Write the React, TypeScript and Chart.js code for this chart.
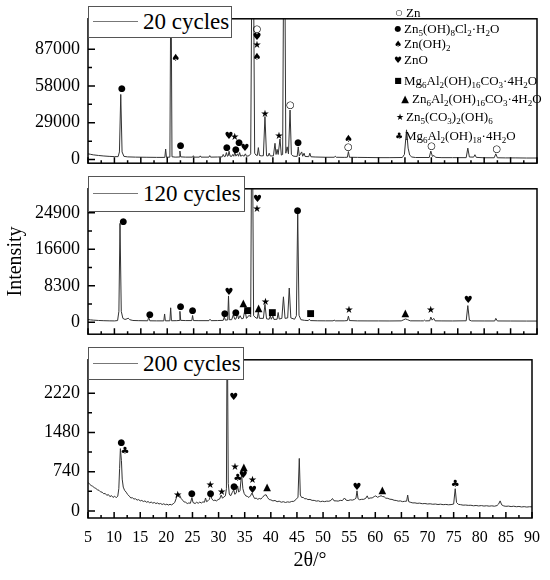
import React, { useEffect, useRef } from 'react';
import { Chart, registerables } from 'chart.js';

Chart.register(...registerables);

const SERIF = '"Liberation Serif", "Times New Roman", serif';

// ---- axis ticks ----
const xTicks = [5, 10, 15, 20, 25, 30, 35, 40, 45, 50, 55, 60, 65, 70, 75, 80, 85, 90];
const xMinorTicks = [7.5, 12.5, 17.5, 22.5, 27.5, 32.5, 37.5, 42.5, 47.5, 52.5, 57.5, 62.5, 67.5, 72.5, 77.5, 82.5, 87.5];
const yTicks20 = [0, 29000, 58000, 87000];
const yMinor20 = [14500, 43500, 72500, 101500];
const yTicks120 = [0, 8300, 16600, 24900];
const yMinor120 = [4150, 12450, 20750, 29050];
const yTicks200 = [0, 740, 1480, 2220];
const yMinor200 = [370, 1110, 1850, 2590];

// ---- series names ----
const seriesNames = ['20 cycles', '120 cycles', '200 cycles'];

// ---- XRD patterns [2θ, intensity] ----
const cycles20: [number, number][] = [
  [5, 4500], [5.5, 4100], [6, 3700], [7, 3200], [8, 2800], [9, 2500], [10, 2300], [10.7, 2300], [10.95, 6000],
  [11.2, 51300], [11.45, 6000], [11.8, 2500], [12.5, 2100], [14, 1900], [16, 1800], [18, 1700], [19.55, 1700],
  [19.7, 8300], [19.85, 1800], [20.5, 1900], [20.7, 160000], [20.9, 2200], [21.5, 1900], [22.25, 2000], [22.4, 6700],
  [22.55, 2100], [23.5, 1900], [24.8, 1900], [24.95, 3000], [25.1, 1900], [26.1, 1900], [26.25, 2900], [26.4, 1900],
  [27.9, 1900], [28.05, 3100], [28.2, 1900], [29.5, 2000], [30.4, 2100], [30.6, 4000], [30.8, 2300], [31.0, 2500],
  [31.2, 5500], [31.4, 2600], [31.55, 3000], [31.7, 6500], [31.9, 2700], [32.2, 2500], [32.4, 4000], [32.6, 2600],
  [32.8, 6000], [33.0, 2700], [33.3, 4500], [33.5, 2600], [33.7, 5500], [33.9, 2600], [34.3, 3500], [34.5, 2500],
  [34.8, 4500], [35.0, 2600], [35.5, 3000], [35.8, 4500], [36.05, 170000], [36.3, 170000], [36.55, 5000],
  [36.8, 3500], [37.05, 3200], [37.25, 9400], [37.45, 3200], [37.8, 2900], [38.2, 3000], [38.5, 33900], [38.8, 3000],
  [39.1, 2800], [39.3, 5000], [39.5, 2800], [40.1, 2900], [40.4, 12800], [40.6, 4000], [40.8, 8000], [41.0, 4000],
  [41.35, 16200], [41.6, 3500], [41.85, 4000], [42.05, 170000], [42.25, 170000], [42.45, 5000], [42.7, 10000],
  [42.95, 4500], [43.25, 39000], [43.5, 4000], [43.8, 2800], [44.2, 2500], [44.6, 2500], [44.8, 10000], [45.0, 2800],
  [45.45, 6000], [45.65, 2600], [45.9, 5000], [46.1, 2400], [46.8, 2300], [47.0, 5000], [47.2, 2200], [48, 2000],
  [50, 1800], [51.6, 1800], [51.8, 2600], [52.0, 1800], [53.5, 1700], [54.1, 1800], [54.3, 6300], [54.5, 1800],
  [56, 1700], [58, 1600], [60, 1500], [62, 1500], [64.5, 1600], [64.9, 4000], [65.3, 23400], [65.6, 9000],
  [65.9, 3500], [66.3, 2000], [67, 1600], [69.6, 1600], [69.9, 6700], [70.2, 2500], [70.5, 3200], [70.8, 1700],
  [72, 1500], [74, 1500], [76.6, 1500], [76.9, 9000], [77.2, 2000], [78.0, 1900], [78.25, 3800], [78.5, 1700],
  [80, 1400], [81.9, 1400], [82.2, 4500], [82.5, 1400], [84, 1300], [86, 1300], [88, 1200], [90, 1200],
];

const cycles120: [number, number][] = [
  [5, 640], [5.5, 560], [6, 500], [7, 420], [8, 370], [9, 340], [10, 320], [10.6, 400], [10.85, 2500], [11.06, 22500],
  [11.3, 2500], [11.6, 900], [12.0, 650], [12.4, 800], [12.6, 960], [12.9, 600], [13.5, 420], [14.5, 380], [16.3, 350],
  [16.5, 1200], [16.7, 350], [18, 330], [19.35, 330], [19.5, 1900], [19.65, 340], [20.5, 350], [20.65, 3300],
  [20.8, 360], [21.8, 380], [22.25, 420], [22.4, 2500], [22.55, 440], [23.5, 400], [24.65, 400], [24.8, 1550],
  [24.95, 400], [26, 380], [27.9, 380], [28.1, 700], [28.3, 380], [29.5, 400], [30.6, 450], [30.8, 1270], [31.0, 500],
  [31.45, 550], [31.6, 6000], [31.75, 600], [32.2, 600], [32.5, 1700], [32.8, 700], [33.0, 750], [33.3, 1900],
  [33.5, 800], [33.8, 1500], [34.1, 800], [34.4, 900], [34.7, 2900], [35.0, 900], [35.5, 1600], [35.8, 1200],
  [36.05, 60000], [36.35, 1500], [36.8, 1000], [37.05, 900], [37.25, 2400], [37.45, 900], [38.2, 900], [38.5, 4100],
  [38.8, 800], [39.3, 700], [39.5, 1500], [39.7, 700], [40.0, 1400], [40.2, 650], [40.8, 700], [41.0, 2240],
  [41.2, 750], [41.7, 900], [42.0, 5800], [42.3, 900], [42.8, 1000], [43.1, 7800], [43.4, 1000], [44.1, 700],
  [44.45, 1500], [44.7, 25000], [44.95, 1600], [45.3, 600], [46, 450], [46.7, 400], [46.9, 700], [47.1, 400],
  [48.5, 350], [50, 340], [51.4, 340], [51.6, 500], [51.8, 340], [53.5, 340], [54.1, 400], [54.3, 1400], [54.5, 400],
  [56, 330], [58, 320], [60, 320], [62, 310], [64.3, 330], [64.8, 600], [65.1, 770], [65.5, 600], [66, 340],
  [68, 330], [68.5, 330], [68.7, 500], [68.9, 330], [69.7, 350], [69.9, 1200], [70.15, 500], [70.45, 900],
  [70.7, 340], [72, 320], [74, 310], [76.6, 350], [76.9, 3800], [77.2, 500], [77.6, 320], [80, 310], [82.0, 310],
  [82.2, 900], [82.5, 310], [85, 300], [88, 290], [90, 290],
];

const cycles200: [number, number][] = [
  [5, 540], [5.3, 505], [5.6, 480], [5.9, 465], [6.2, 440], [6.5, 425], [6.8, 400], [7.1, 390], [7.4, 360],
  [7.7, 355], [8.0, 325], [8.3, 330], [8.6, 295], [8.9, 310], [9.2, 270], [9.5, 290], [9.8, 255], [10.1, 280],
  [10.4, 250], [10.7, 280], [10.9, 420], [11.05, 800], [11.2, 1175], [11.4, 950], [11.55, 600], [11.75, 450],
  [12.0, 390], [12.3, 355], [12.6, 310], [12.9, 280], [13.2, 245], [13.5, 250], [13.8, 225], [14.1, 230], [14.4, 205],
  [14.7, 215], [15.0, 190], [15.3, 200], [15.6, 178], [15.9, 190], [16.2, 165], [16.5, 178], [16.8, 155], [17.1, 168],
  [17.4, 148], [17.7, 160], [18.0, 140], [18.3, 152], [18.6, 132], [18.9, 142], [19.2, 122], [19.5, 136], [19.8, 118],
  [20.1, 128], [20.4, 112], [20.7, 126], [21.0, 115], [21.3, 135], [21.6, 160], [21.9, 240], [22.2, 330], [22.5, 310],
  [22.8, 240], [23.1, 205], [23.4, 170], [23.7, 165], [24.0, 140], [24.3, 152], [24.6, 145], [24.9, 255], [25.1, 160],
  [25.5, 140], [25.8, 165], [26.1, 145], [26.4, 168], [26.7, 150], [27.0, 172], [27.3, 165], [27.5, 245], [27.7, 175],
  [28.0, 195], [28.25, 220], [28.5, 320], [28.7, 230], [29.0, 195], [29.3, 205], [29.6, 190], [29.9, 215], [30.2, 225],
  [30.5, 300], [30.75, 240], [31.0, 265], [31.3, 285], [31.5, 420], [31.65, 4000], [31.85, 520], [32.05, 320],
  [32.3, 285], [32.6, 345], [32.9, 400], [33.1, 315], [33.35, 335], [33.65, 470], [33.85, 355], [34.1, 385],
  [34.4, 700], [34.65, 420], [34.9, 330], [35.2, 285], [35.5, 275], [35.8, 255], [36.1, 285], [36.4, 340],
  [36.65, 280], [36.9, 235], [37.2, 242], [37.5, 220], [37.8, 236], [38.1, 226], [38.4, 255], [38.8, 300],
  [39.1, 305], [39.4, 250], [39.7, 215], [40.0, 210], [40.4, 190], [40.8, 198], [41.2, 175], [41.6, 185], [42.0, 165],
  [42.4, 175], [42.8, 160], [43.2, 172], [43.6, 165], [44.0, 180], [44.4, 182], [44.8, 215], [45.2, 260],
  [45.45, 990], [45.65, 300], [45.9, 255], [46.2, 255], [46.5, 230], [46.8, 232], [47.1, 215], [47.5, 218],
  [47.9, 200], [48.3, 200], [48.7, 186], [49.1, 192], [49.5, 176], [49.9, 184], [50.3, 176], [50.7, 186], [51.1, 183],
  [51.5, 198], [51.8, 235], [52.1, 192], [52.5, 190], [52.9, 186], [53.3, 200], [53.7, 196], [54.1, 245], [54.4, 205],
  [54.8, 196], [55.2, 210], [55.6, 205], [56.0, 218], [56.3, 240], [56.5, 380], [56.7, 230], [57.0, 212],
  [57.4, 220], [57.8, 220], [58.2, 242], [58.45, 285], [58.7, 232], [59.0, 245], [59.4, 246], [59.8, 272],
  [60.1, 285], [60.4, 258], [60.8, 274], [61.1, 288], [61.4, 272], [61.7, 268], [62.0, 242], [62.4, 238],
  [62.8, 222], [63.2, 218], [63.6, 202], [64.0, 198], [64.4, 186], [64.8, 190], [65.2, 176], [65.6, 182],
  [66.0, 185], [66.2, 300], [66.4, 175], [66.8, 162], [67.2, 152], [67.6, 153], [68.0, 144], [68.5, 148],
  [69.0, 137], [69.5, 141], [70.0, 132], [70.5, 136], [71.0, 127], [71.5, 131], [72.0, 122], [72.5, 128],
  [73.0, 119], [73.5, 124], [74.0, 117], [74.5, 121], [75.0, 130], [75.3, 420], [75.55, 160], [75.9, 125],
  [76.3, 120], [76.8, 110], [77.3, 112], [77.8, 106], [78.3, 108], [78.8, 98], [79.3, 104], [79.8, 95], [80.3, 102],
  [80.8, 93], [81.3, 99], [81.8, 91], [82.3, 97], [82.8, 90], [83.3, 102], [83.6, 130], [83.9, 190], [84.2, 115],
  [84.6, 95], [85.0, 88], [85.5, 92], [86.0, 83], [86.5, 90], [87.0, 80], [87.5, 86], [88.0, 76], [88.5, 82],
  [89.0, 74], [89.5, 80], [90, 78],
];

// ---- phase markers [2θ, intensity, phase] ----
type Phase = 'zn' | 'chl' | 'hyd' | 'zno' | 'mgc' | 'znc' | 'carb' | 'mgh';
const marks20: [number, number, Phase][] = [
  [11.44, 56000, 'chl'], [21.6, 79400, 'hyd'], [22.55, 11200, 'chl'], [31.3, 9200, 'chl'], [31.7, 18500, 'zno'],
  [32.8, 17200, 'carb'], [33.0, 7800, 'chl'], [33.6, 13200, 'chl'], [34.7, 8800, 'zno'], [37.0, 102200, 'zn'],
  [37.0, 96600, 'zno'], [37.0, 90100, 'carb'], [37.0, 80100, 'hyd'], [38.5, 35900, 'carb'], [41.16, 18500, 'carb'],
  [43.3, 42800, 'zn'], [44.8, 13400, 'chl'], [54.3, 15700, 'hyd'], [54.3, 9400, 'zn'], [70.05, 10500, 'zn'],
  [82.4, 7800, 'zn'],
];
const marks120: [number, number, Phase][] = [
  [11.7, 22970, 'chl'], [16.7, 1800, 'chl'], [22.55, 3530, 'chl'], [24.8, 2700, 'chl'], [30.9, 2050, 'chl'],
  [31.7, 6800, 'zno'], [33.0, 2240, 'chl'], [34.4, 4360, 'znc'], [35.2, 2570, 'mgc'], [37.1, 27850, 'zno'],
  [37.0, 25700, 'carb'], [37.3, 3240, 'znc'], [38.6, 4600, 'carb'], [39.9, 2240, 'mgc'], [44.7, 25400, 'chl'],
  [47.1, 1930, 'mgc'], [54.4, 2760, 'carb'], [65.1, 1990, 'znc'], [69.9, 2760, 'carb'], [77.0, 5020, 'zno'],
];
const marks200: [number, number, Phase][] = [
  [11.4, 1280, 'chl'], [12.1, 1115, 'mgh'], [22.2, 300, 'carb'], [24.9, 320, 'chl'], [28.4, 478, 'carb'],
  [28.5, 331, 'chl'], [30.6, 350, 'carb'], [32.9, 2133, 'zno'], [33.0, 465, 'chl'], [33.15, 823, 'carb'],
  [33.65, 622, 'mgh'], [34.85, 814, 'znc'], [34.7, 662, 'zno'], [36.5, 579, 'carb'], [36.5, 390, 'zno'],
  [39.3, 440, 'znc'], [56.5, 448, 'zno'], [61.35, 390, 'znc'], [75.3, 505, 'mgh'],
];

const glyph: Record<Phase, string> = {
  zn: '○', chl: '●', hyd: '♠', zno: '♥', mgc: '■', znc: '▲', carb: '★', mgh: '♣',
};
const glyphSize: Record<Phase, number> = {
  zn: 10, chl: 9, hyd: 10, zno: 10, mgc: 9, znc: 10, carb: 10, mgh: 10,
};

// ---- phase legend ----
const phaseOrder: Phase[] = ['zn', 'chl', 'hyd', 'zno', 'mgc', 'znc', 'carb', 'mgh'];
const phaseNames = [
  'Zn', 'Zn5(OH)8Cl2·H2O', 'Zn(OH)2', 'ZnO', 'Mg6Al2(OH)16CO3·4H2O', 'Zn6Al2(OH)16CO3·4H2O',
  'Zn5(CO3)2(OH)6', 'Mg6Al2(OH)18·4H2O',
];
const phaseRowY = [13, 29, 44, 60, 81, 99, 117, 136];
const phaseSymX = [399, 398, 398, 398, 398, 405, 400, 399];
const phaseTextX = [406, 404, 404, 404, 404, 412, 406, 405];
const phaseSymSize: Record<Phase, number> = {
  zn: 8, chl: 8, hyd: 9, zno: 9, mgc: 8, znc: 10, carb: 9, mgh: 9,
};

const framePlugin = {
  id: 'frame',
  afterDatasetsDraw(chart: any, _args: any, opts: any) {
    const { ctx, chartArea: a } = chart;
    const xs = chart.scales.x;
    const ys = chart.scales.y;
    ctx.save();
    ctx.strokeStyle = '#000';
    ctx.lineWidth = 1.5;
    ctx.strokeRect(a.left, a.top, a.right - a.left, a.bottom - a.top);
    ctx.beginPath();
    xTicks.forEach((v) => { const p = xs.getPixelForValue(v); ctx.moveTo(p, a.bottom); ctx.lineTo(p, a.bottom - 6); });
    xMinorTicks.forEach((v) => { const p = xs.getPixelForValue(v); ctx.moveTo(p, a.bottom); ctx.lineTo(p, a.bottom - 3); });
    (opts.major || []).forEach((v: number) => { const p = ys.getPixelForValue(v); ctx.moveTo(a.left, p); ctx.lineTo(a.left + 7, p); });
    (opts.minor || []).forEach((v: number) => { const p = ys.getPixelForValue(v); ctx.moveTo(a.left, p); ctx.lineTo(a.left + 4, p); });
    ctx.stroke();
    ctx.restore();
  },
};

const markPlugin = {
  id: 'marks',
  afterDatasetsDraw(chart: any, _args: any, opts: any) {
    const { ctx } = chart;
    const xs = chart.scales.x;
    const ys = chart.scales.y;
    ctx.save();
    ctx.fillStyle = '#000';
    ctx.textAlign = 'center';
    ctx.textBaseline = 'middle';
    (opts.items || []).forEach(([x, y, k]: [number, number, Phase]) => {
      ctx.font = `${glyphSize[k]}px "DejaVu Sans"`;
      ctx.fillText(glyph[k], xs.getPixelForValue(x), ys.getPixelForValue(y));
    });
    ctx.restore();
  },
};

interface PanelCfg {
  points: [number, number][];
  marks: [number, number, Phase][];
  yMin: number; yMax: number;
  yTicks: number[]; yMinor: number[];
  padTop: number; padBottom: number;
  showX: boolean; yTitle?: string;
}

function makeConfig(p: PanelCfg): any {
  const xScale: any = {
    type: 'linear', min: 5, max: 90, display: p.showX,
    grid: { display: false, drawTicks: false }, border: { display: false },
    afterBuildTicks: (s: any) => { s.ticks = xTicks.map((v) => ({ value: v })); },
    ticks: {
      font: { family: SERIF, size: 16 }, color: '#000', padding: 10, maxRotation: 0, autoSkip: false,
      callback: (v: any) => String(v),
    },
    title: {
      display: p.showX, text: '2θ/°', color: '#000', font: { family: SERIF, size: 20 },
      padding: { top: 0, bottom: 7 },
    },
  };
  if (p.showX) xScale.afterFit = (s: any) => { s.height = 62; };
  return {
    type: 'line',
    data: {
      datasets: [{
        data: p.points.map(([x, y]) => ({ x, y })),
        borderColor: '#333', borderWidth: 1, pointRadius: 0, tension: 0, fill: false,
      }],
    },
    options: {
      responsive: false, animation: false, events: [],
      layout: { padding: { top: p.padTop, bottom: p.padBottom, left: 0, right: 13 } },
      plugins: {
        legend: { display: false }, tooltip: { enabled: false },
        frame: { major: p.yTicks, minor: p.yMinor },
        marks: { items: p.marks },
      },
      scales: {
        x: xScale,
        y: {
          type: 'linear', min: p.yMin, max: p.yMax,
          grid: { display: false, drawTicks: false }, border: { display: false },
          afterBuildTicks: (s: any) => { s.ticks = p.yTicks.map((v) => ({ value: v })); },
          afterFit: (s: any) => { s.width = 88; },
          ticks: { font: { family: SERIF, size: 18 }, color: '#000', padding: 8, callback: (v: any) => String(v) },
          title: {
            display: !!p.yTitle, text: p.yTitle || '', color: '#000', font: { family: SERIF, size: 20 },
            padding: { top: 4, bottom: 0 },
          },
        },
      },
    },
    plugins: [framePlugin, markPlugin],
  };
}

function formula(s: string) {
  const parts: React.ReactNode[] = [];
  let prevSub = false;
  for (let i = 0; i < s.length; i++) {
    const c = s[i];
    const prev = i > 0 ? s[i - 1] : '';
    const isDigit = c >= '0' && c <= '9';
    const sub = isDigit && (/[A-Za-z)]/.test(prev) || (prevSub && prev >= '0' && prev <= '9'));
    if (sub) {
      parts.push(<sub key={i} style={{ fontSize: 9, verticalAlign: 'baseline', position: 'relative', top: 3 }}>{c}</sub>);
    } else {
      parts.push(<span key={i}>{c}</span>);
    }
    prevSub = sub;
  }
  return parts;
}

function SeriesBox({ left, top, width, height, label }: { left: number; top: number; width: number; height: number; label: string }) {
  return (
    <div style={{
      position: 'absolute', left, top, width, height, boxSizing: 'border-box',
      border: '1px solid #555', background: '#fff',
    }}>
      <div style={{ position: 'absolute', left: 4, width: 45, top: height / 2 - 2, height: 0, borderTop: '1.5px solid #777' }} />
      <div style={{
        position: 'absolute', left: 54, top: 0, height: height - 2, lineHeight: `${height - 2}px`,
        fontFamily: SERIF, fontSize: 23, color: '#000', whiteSpace: 'nowrap',
      }}>{label}</div>
    </div>
  );
}

export default function App() {
  const r1 = useRef<HTMLCanvasElement>(null);
  const r2 = useRef<HTMLCanvasElement>(null);
  const r3 = useRef<HTMLCanvasElement>(null);

  useEffect(() => {
    const charts = [
      new Chart(r1.current!, makeConfig({
        points: cycles20, marks: marks20, yMin: -2880, yMax: 110900, yTicks: yTicks20, yMinor: yMinor20,
        padTop: 6, padBottom: 6, showX: false,
      })),
      new Chart(r2.current!, makeConfig({
        points: cycles120, marks: marks120, yMin: -2700, yMax: 30360, yTicks: yTicks120, yMinor: yMinor120,
        padTop: 6, padBottom: 6, showX: false, yTitle: 'Intensity',
      })),
      new Chart(r3.current!, makeConfig({
        points: cycles200, marks: marks200, yMin: -132, yMax: 2848, yTicks: yTicks200, yMinor: yMinor200,
        padTop: 6, padBottom: 0, showX: true,
      })),
    ];
    return () => charts.forEach((c) => c.destroy());
  }, []);

  return (
    <div style={{ position: 'absolute', left: 0, top: 0, width: 550, height: 580, background: '#fff', overflow: 'hidden' }}>
      <canvas ref={r1} width={550} height={182} style={{ position: 'absolute', left: 0, top: 0, width: 550, height: 182 }} />
      <canvas ref={r2} width={550} height={183} style={{ position: 'absolute', left: 0, top: 170, width: 550, height: 183 }} />
      <canvas ref={r3} width={550} height={239} style={{ position: 'absolute', left: 0, top: 341, width: 550, height: 239 }} />
      <SeriesBox left={88} top={6} width={144} height={32} label={seriesNames[0]} />
      <SeriesBox left={88} top={176} width={157} height={36} label={seriesNames[1]} />
      <SeriesBox left={88} top={347} width={156} height={33} label={seriesNames[2]} />
      {phaseOrder.map((k, i) => (
        <div key={k} style={{ position: 'absolute', left: 0, top: phaseRowY[i] - 8, height: 16, width: 550 }}>
          <span style={{
            position: 'absolute', left: phaseSymX[i] - 6, width: 12, textAlign: 'center', top: 0, lineHeight: '16px',
            fontFamily: '"DejaVu Sans"', fontSize: phaseSymSize[k], color: '#000',
          }}>{glyph[k]}</span>
          <span style={{
            position: 'absolute', left: phaseTextX[i], top: 0, lineHeight: '16px', whiteSpace: 'nowrap',
            fontFamily: SERIF, fontSize: 13, color: '#000',
          }}>{formula(phaseNames[i])}</span>
        </div>
      ))}
    </div>
  );
}
